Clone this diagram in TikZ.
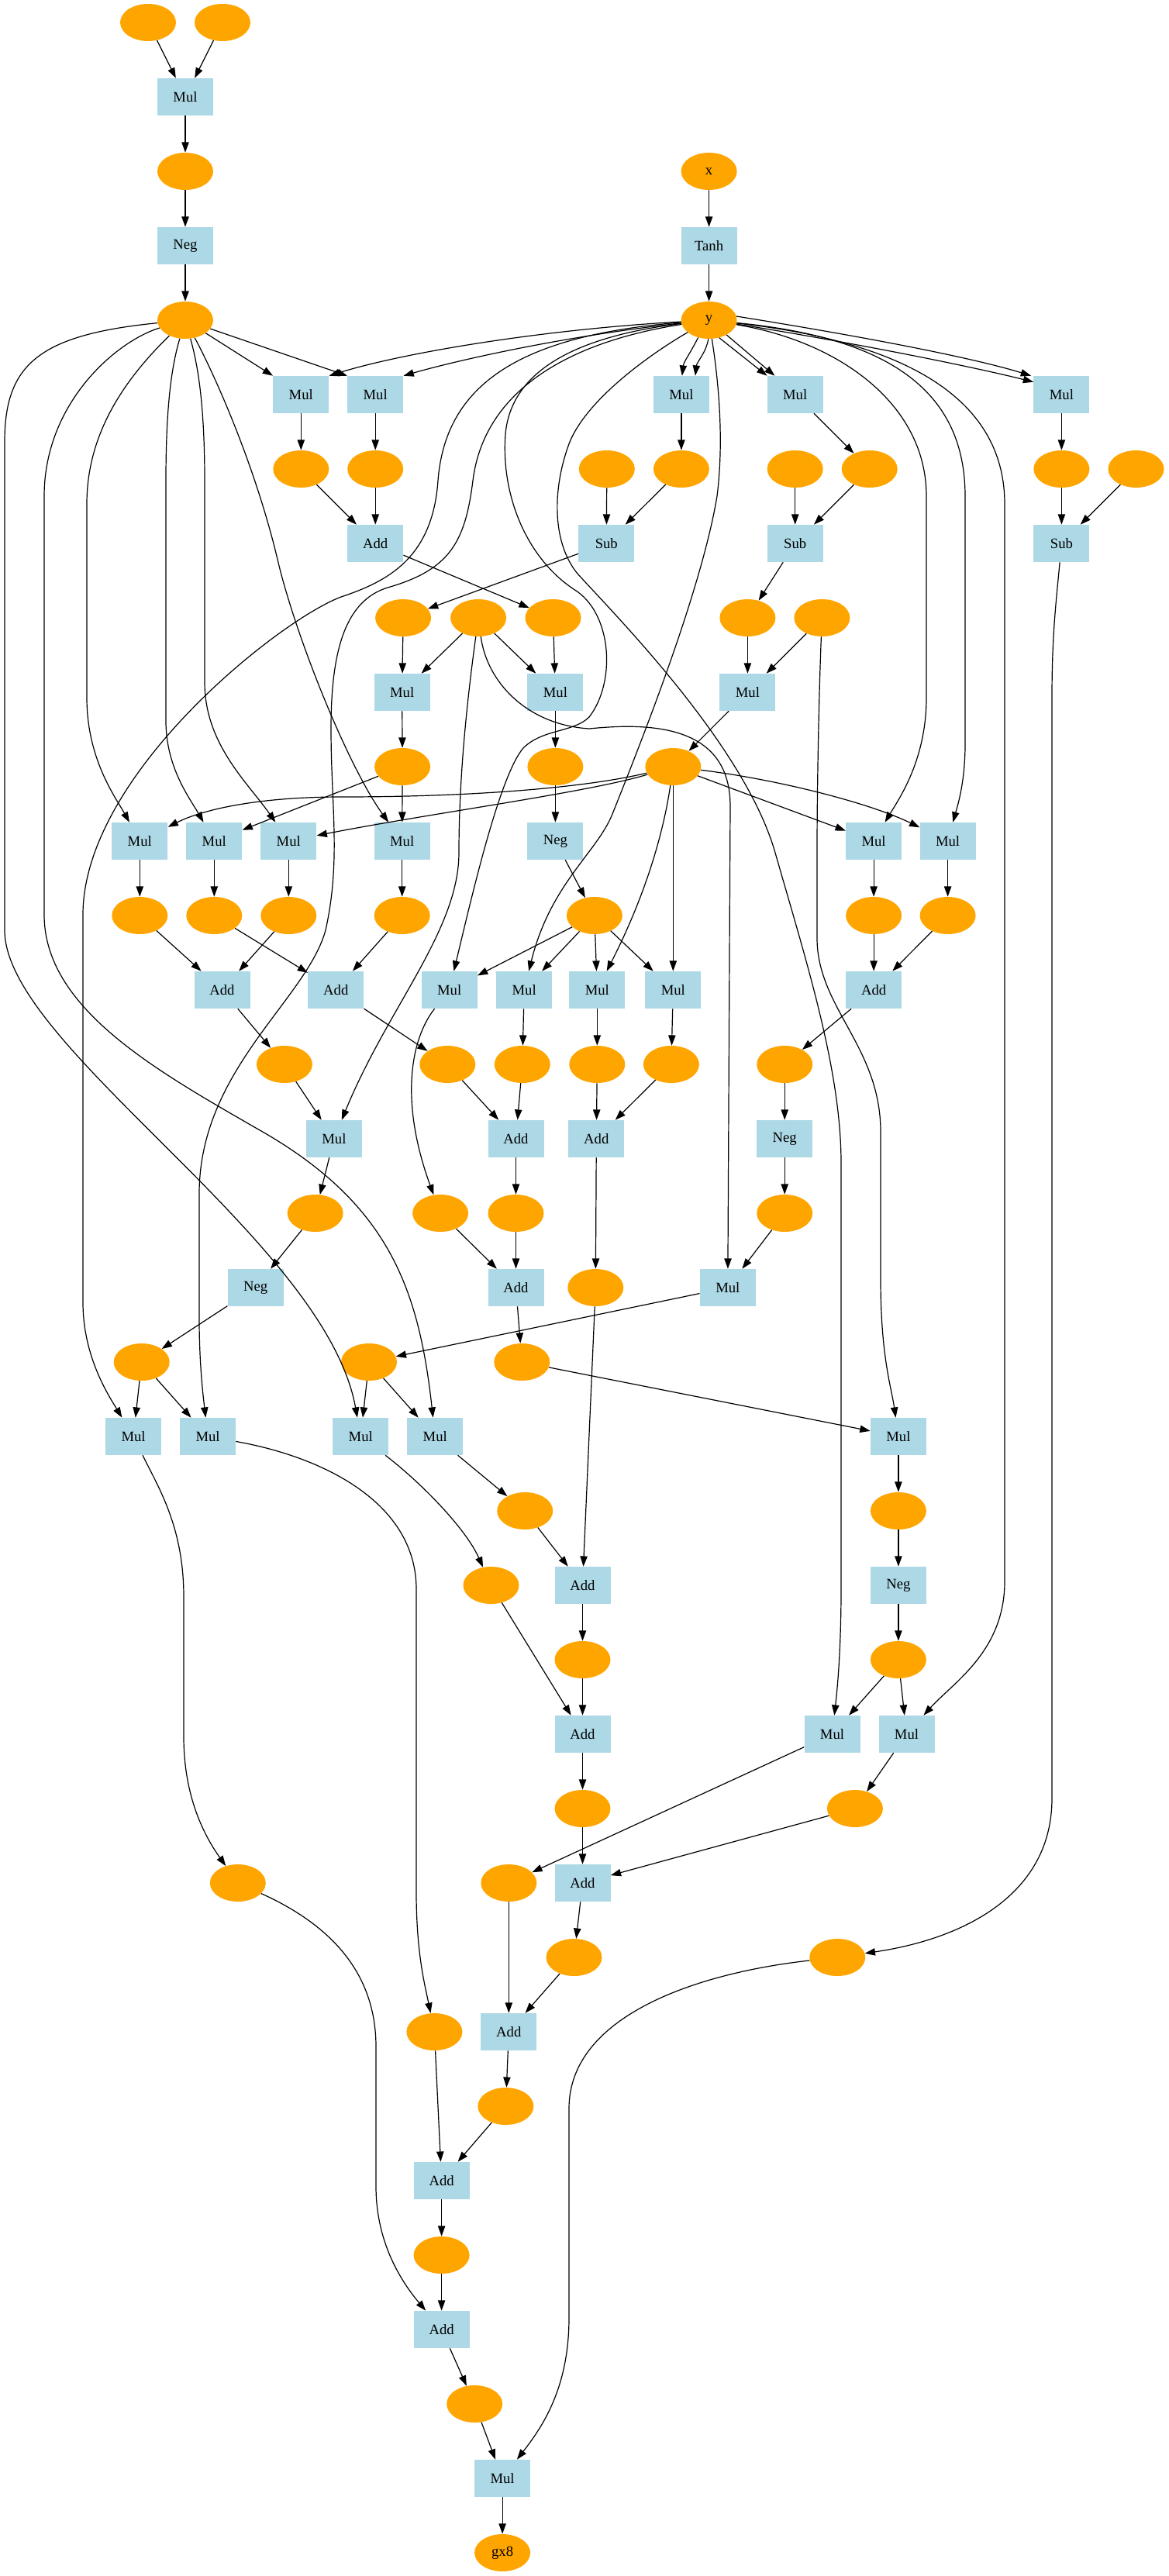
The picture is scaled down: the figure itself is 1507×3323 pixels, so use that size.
\documentclass[tikz,border=0pt]{standalone}
\usepackage{fontspec}
\setmainfont{Liberation Serif}
\usetikzlibrary{shapes.geometric,arrows.meta,calc}
\definecolor{vblue}{RGB}{173,216,230}
\definecolor{vorange}{RGB}{255,165,0}
\begin{document}
\begin{tikzpicture}[x=0.75pt,y=-0.75pt,
  val/.style={ellipse, fill=vorange, minimum width=54pt, minimum height=36pt, inner sep=0pt, font=\fontsize{14}{16}\selectfont},
  op/.style={rectangle, fill=vblue, minimum width=54pt, minimum height=36pt, inner sep=0pt, font=\fontsize{14}{16}\selectfont},
  link/.style={line width=0.9pt, -{Triangle[length=10pt,width=7pt]}}]
\useasboundingbox (0,0) rectangle (1507,3323);

% ---------- nodes, rank by rank ----------
\node[val] (e01) at (191,29) {};
\node[val] (e02) at (287,29) {};
\node[op]  (m1) at (239,125) {Mul};
\node[val] (e1) at (239,221) {};
\node[val] (ex) at (914.6,221) {x};
\node[op]  (neg1) at (239,317) {Neg};
\node[op]  (tanh) at (914.6,317) {Tanh};
\node[val] (A) at (239,413) {};
\node[val] (Y) at (914.6,413) {y};

\node[op] (m5a) at (388.3,509) {Mul};
\node[op] (m5b) at (484.2,509) {Mul};
\node[op] (m5c) at (878.9,509) {Mul};
\node[op] (m5d) at (1025.7,509) {Mul};
\node[op] (m5e) at (1369.4,509) {Mul};

\node[val] (e6a) at (388.3,605) {};
\node[val] (e6b) at (484.2,605) {};
\node[val] (e6c) at (782.8,605) {};
\node[val] (e6d) at (878.9,605) {};
\node[val] (e6e) at (1025.7,605) {};
\node[val] (e6f) at (1121.7,605) {};
\node[val] (e6g) at (1369.4,605) {};
\node[val] (e6h) at (1465.5,605) {};

\node[op] (add7) at (484.2,701) {Add};
\node[op] (sub1) at (782.3,701) {Sub};
\node[op] (sub2) at (1025.7,701) {Sub};
\node[op] (sub3) at (1369.4,701) {Sub};

\node[val] (e8a) at (520.1,797) {};
\node[val] (e8b) at (617.1,797) {};
\node[val] (e8c) at (713.5,797) {};
\node[val] (e8d) at (964.4,797) {};
\node[val] (e8e) at (1060.4,797) {};

\node[op] (m9a) at (518.7,893) {Mul};
\node[op] (m9b) at (716.4,893) {Mul};
\node[op] (m9c) at (964.4,893) {Mul};

\node[val] (e10a) at (519.1,989) {};
\node[val] (e10b) at (716.4,989) {};
\node[val] (B) at (868.3,989) {};

\node[op] (m11a) at (180.3,1085) {Mul};
\node[op] (m11b) at (276.3,1085) {Mul};
\node[op] (m11c) at (372.3,1085) {Mul};
\node[op] (m11d) at (518.7,1085) {Mul};
\node[op] (neg11) at (716.4,1085) {Neg};
\node[op] (m11e) at (1127.1,1085) {Mul};
\node[op] (m11f) at (1222.6,1085) {Mul};

\node[val] (e12a) at (180.3,1181) {};
\node[val] (e12b) at (276.3,1181) {};
\node[val] (e12c) at (372.3,1181) {};
\node[val] (e12d) at (518.7,1181) {};
\node[val] (C) at (766.9,1181) {};
\node[val] (e12e) at (1127.1,1181) {};
\node[val] (e12f) at (1222.6,1181) {};

\node[op] (add13a) at (286.5,1277) {Add};
\node[op] (add13b) at (433.3,1277) {Add};
\node[op] (m13a) at (579.7,1277) {Mul};
\node[op] (m13b) at (676.2,1277) {Mul};
\node[op] (m13c) at (770.3,1277) {Mul};
\node[op] (m13d) at (868.3,1277) {Mul};
\node[op] (add13c) at (1127.1,1277) {Add};

\node[val] (e14a) at (366.9,1373) {};
\node[val] (e14b) at (577.3,1373) {};
\node[val] (e14c) at (673.8,1373) {};
\node[val] (e14d) at (770.3,1373) {};
\node[val] (e14e) at (865.9,1373) {};
\node[val] (e14f) at (1012.2,1373) {};

\node[op] (m15) at (430.9,1469) {Mul};
\node[op] (add15a) at (665.5,1469) {Add};
\node[op] (add15b) at (769.3,1469) {Add};
\node[op] (neg15) at (1012.2,1469) {Neg};

\node[val] (e16a) at (406.7,1565) {};
\node[val] (e16b) at (568.1,1565) {};
\node[val] (e16c) at (665.5,1565) {};
\node[val] (e16d) at (1012.2,1565) {};

\node[op] (neg17) at (329.6,1661) {Neg};
\node[op] (add17) at (665.5,1661) {Add};
\node[val] (e17) at (768.3,1661) {};
\node[op] (m17) at (938.8,1661) {Mul};

\node[val] (e18a) at (182.7,1757) {};
\node[val] (D) at (476,1757) {};
\node[val] (e18c) at (673.3,1757) {};

\node[op] (m19a) at (172.1,1853) {Mul};
\node[op] (m19b) at (268.1,1853) {Mul};
\node[op] (m19c) at (465.3,1853) {Mul};
\node[op] (m19d) at (561.3,1853) {Mul};
\node[op] (m19e) at (1158.9,1853) {Mul};

\node[val] (e20a) at (677.2,1949) {};
\node[val] (e20b) at (1158.9,1949) {};

\node[val] (e21a) at (633.5,2045) {};
\node[op] (add21) at (751.5,2045) {Add};
\node[op] (neg21) at (1158.9,2045) {Neg};

\node[val] (e22a) at (751.5,2141) {};
\node[val] (e22b) at (1158.9,2141) {};

\node[op] (add23) at (751.5,2237) {Add};
\node[op] (m23a) at (1073.5,2237) {Mul};
\node[op] (m23b) at (1169.5,2237) {Mul};

\node[val] (e24a) at (751.5,2333) {};
\node[val] (e24b) at (1102.9,2333) {};

\node[val] (e25a) at (306.8,2429) {};
\node[val] (e25b) at (656.3,2429) {};
\node[op] (add25) at (751.5,2429) {Add};

\node[val] (e26a) at (740.5,2525) {};
\node[val] (e26b) at (1080.2,2525) {};

\node[val] (e27a) at (560.4,2621) {};
\node[op] (add27) at (656.3,2621) {Add};

\node[val] (e28) at (652.4,2717) {};
\node[op] (add29) at (569.6,2813) {Add};
\node[val] (e30) at (569.6,2909) {};
\node[op] (add31) at (569.6,3005) {Add};
\node[val] (e32) at (612.2,3101) {};
\node[op] (m33) at (648.1,3197) {Mul};
\node[val] (gx8) at (648.1,3293) {gx8};

% ---------- top chains ----------
\draw[link] (e01) -- (m1);
\draw[link] (e02) -- (m1);
\draw[link] (m1) -- (e1);
\draw[link] (e1) -- (neg1);
\draw[link] (neg1) -- (A);
\draw[link] (ex) -- (tanh);
\draw[link] (tanh) -- (Y);

% ---------- fan-out of A ----------
\draw[link] (A) .. controls (50,432) and (6,470) .. (6,570) -- (6,1200) .. controls (6,1350) and (420,1600) .. (m19c);
\draw[link] (A) .. controls (150,440) and (57,520) .. (57,640) -- (57,1180) .. controls (57,1300) and (200,1380) .. (330,1455) .. controls (500,1550) and (540,1660) .. (m19d);
\draw[link] (A) .. controls (160,490) and (112,560) .. (112,650) -- (112,900) .. controls (112,980) and (150,1030) .. (m11a);
\draw[link] (A) .. controls (222,470) and (214,520) .. (214,620) -- (214,930) .. controls (214,990) and (245,1030) .. (m11b);
\draw[link] (A) .. controls (255,470) and (264,520) .. (264,620) -- (264,880) .. controls (264,960) and (320,1010) .. (m11c);
\draw[link] (A) .. controls (275,480) and (330,600) .. (360,730) .. controls (385,830) and (450,990) .. (m11d);
\draw[link] (A) -- (m5a.north west);
\draw[link] (A) -- (m5b.north west);

% ---------- fan-out of y ----------
\draw[link] (Y) .. controls (700,425) and (520,455) .. (m5a.north east);
\draw[link] (Y) .. controls (740,432) and (600,462) .. (m5b.north east);
\draw[link] (Y) .. controls (680,432) and (575,490) .. (565,620) .. controls (558,720) and (500,750) .. (440,770) .. controls (360,800) and (107,1000) .. (107,1180) -- (107,1680) .. controls (107,1750) and (140,1800) .. (m19a);
\draw[link] (Y) .. controls (740,440) and (625,500) .. (610,620) .. controls (600,700) and (580,735) .. (500,758) .. controls (445,775) and (427,840) .. (427,940) .. controls (427,1040) and (440,1110) .. (420,1200) .. controls (395,1290) and (257,1380) .. (257,1540) -- (257,1700) .. controls (257,1760) and (262,1800) .. (m19b);
\draw[link] (Y) .. controls (850,450) and (760,510) .. (735,570) .. controls (712,630) and (712,700) .. (745,740) .. controls (790,790) and (960,960) .. (1000,1100) .. controls (1040,1240) and (1085,1380) .. (1085,1500) -- (1085,2050) .. controls (1085,2130) and (1080,2180) .. (m23a);
\draw[link] (Y) .. controls (760,432) and (660,470) .. (652,560) .. controls (646,640) and (680,720) .. (740,760) .. controls (790,790) and (795,880) .. (760,925) .. controls (740,945) and (700,940) .. (675,965) .. controls (645,1000) and (610,1150) .. (m13a);
\draw[link] (Y) .. controls (925,480) and (935,560) .. (925,640) .. controls (905,760) and (830,950) .. (790,1050) .. controls (770,1100) and (710,1140) .. (m13b);
\draw[link] (Y.238) .. controls +(-10,20) and +(2,-18) .. ($(m5c.north)+(1,0)$);
\draw[link] (Y.268) .. controls +(-3,18) and +(2,-18) .. ($(m5c.north)+(18,0)$);
\draw[link] (Y.300) -- (m5d.north west);
\draw[link] (Y.320) -- ($(m5d.north west)+(10,0)$);
\draw[link] (Y.8) .. controls (1100,432) and (1250,460) .. ($(m5e.north west)+(-3,0)$);
\draw[link] (Y.352) .. controls (1100,442) and (1250,472) .. ($(m5e.north west)+(0,8)$);
\draw[link] (Y) .. controls (1080,440) and (1195,520) .. (1195,640) -- (1195,900) .. controls (1195,980) and (1160,1030) .. (m11e);
\draw[link] (Y) .. controls (1140,435) and (1245,500) .. (1245,640) -- (1245,960) .. controls (1245,1010) and (1235,1040) .. (m11f);
\draw[link] (Y) .. controls (1160,440) and (1296,510) .. (1296,650) -- (1296,2040) .. controls (1296,2130) and (1230,2170) .. (m23b);

% ---------- ranks 5 to 10 ----------
\draw[link] (m5a) -- (e6a);
\draw[link] (m5b) -- (e6b);
\draw[link] (m5c) -- (e6d);
\draw[link] (m5d) -- (e6f);
\draw[link] (m5e) -- (e6g);
\draw[link] (e6a) -- (add7);
\draw[link] (e6b) -- (add7);
\draw[link] (e6c) -- (sub1);
\draw[link] (e6d) -- (sub1);
\draw[link] (e6e) -- (sub2);
\draw[link] (e6f) -- (sub2);
\draw[link] (e6g) -- (sub3);
\draw[link] (e6h) -- (sub3);
\draw[link] (add7) -- (e8c);
\draw[link] (sub1) -- (e8a);
\draw[link] (sub2) -- (e8d);
\draw[link] (e8a) -- (m9a);
\draw[link] (e8b) -- (m9a);
\draw[link] (e8b) -- (m9b);
\draw[link] (e8c) -- (m9b);
\draw[link] (e8d) -- (m9c);
\draw[link] (e8e) -- (m9c);
\draw[link] (m9a) -- (e10a);
\draw[link] (m9b) -- (e10b);
\draw[link] (m9c) -- (B);
\draw[link] (e10b) -- (neg11);
\draw[link] (neg11) -- (C);
\draw[link] (e10a) -- (m11b);
\draw[link] (e10a) -- (m11d);

% ---------- fan-out of B and C ----------
\draw[link] (B) .. controls (760,1015) and (620,1028) .. (440,1028) .. controls (330,1028) and (260,1045) .. (m11a);
\draw[link] (B) .. controls (760,1022) and (550,1050) .. (m11c);
\draw[link] (B) -- (m11e);
\draw[link] (B) .. controls (1000,1005) and (1120,1035) .. (m11f);
\draw[link] (B) .. controls (855,1080) and (830,1160) .. (m13c);
\draw[link] (B) -- (m13d);
\draw[link] (C) -- (m13a);
\draw[link] (C) -- (m13b);
\draw[link] (C) -- (m13c);
\draw[link] (C) -- (m13d);

% ---------- ranks 11 to 18 ----------
\draw[link] (m11a) -- (e12a);
\draw[link] (m11b) -- (e12b);
\draw[link] (m11c) -- (e12c);
\draw[link] (m11d) -- (e12d);
\draw[link] (m11e) -- (e12e);
\draw[link] (m11f) -- (e12f);
\draw[link] (e12a) -- (add13a);
\draw[link] (e12c) -- (add13a);
\draw[link] (e12b) -- (add13b);
\draw[link] (e12d) -- (add13b);
\draw[link] (e12e) -- (add13c);
\draw[link] (e12f) -- (add13c);
\draw[link] (add13a) -- (e14a);
\draw[link] (add13b) -- (e14b);
\draw[link] (m13a) .. controls (530,1340) and (515,1420) .. (e16b);
\draw[link] (m13b) -- (e14c);
\draw[link] (m13c) -- (e14d);
\draw[link] (m13d) -- (e14e);
\draw[link] (add13c) -- (e14f);
\draw[link] (e14a) -- (m15);
\draw[link] (e8b) .. controls (603,900) and (592,1000) .. (592,1100) .. controls (592,1200) and (500,1300) .. (m15);
\draw[link] (e14b) -- (add15a);
\draw[link] (e14c) -- (add15a);
\draw[link] (e14d) -- (add15b);
\draw[link] (e14e) -- (add15b);
\draw[link] (e14f) -- (neg15);
\draw[link] (m15) -- (e16a);
\draw[link] (add15a) -- (e16c);
\draw[link] (neg15) -- (e16d);
\draw[link] (add15b) -- (e17);
\draw[link] (e16a) -- (neg17);
\draw[link] (e16b) -- (add17);
\draw[link] (e16c) -- (add17);
\draw[link] (e16d) -- (m17);
\draw[link] (e8b) .. controls (628,880) and (680,935) .. (760,940) .. controls (840,932) and (942,935) .. (942,1040) -- (m17);
\draw[link] (neg17) -- (e18a);
\draw[link] (m17) -- (D);
\draw[link] (add17) -- (e18c);

% ---------- ranks 19 to the output ----------
\draw[link] (e18a) -- (m19a);
\draw[link] (e18a) -- (m19b);
\draw[link] (D) -- (m19c);
\draw[link] (D) -- (m19d);
\draw[link] (e18c) -- (m19e);
\draw[link] (e8e) .. controls (1057,880) and (1054,1000) .. (1054,1100) -- (1054,1210) .. controls (1054,1300) and (1136,1350) .. (1136,1460) -- (1136,1650) .. controls (1136,1750) and (1150,1790) .. (m19e);
\draw[link] (m19d) -- (e20a);
\draw[link] (m19e) -- (e20b);
\draw[link] (m19c) .. controls (540,1910) and (600,1970) .. (e21a);
\draw[link] (e20a) -- (add21);
\draw[link] (e17) -- (add21);
\draw[link] (e20b) -- (neg21);
\draw[link] (add21) -- (e22a);
\draw[link] (neg21) -- (e22b);
\draw[link] (e21a) -- (add23);
\draw[link] (e22a) -- (add23);
\draw[link] (e22b) -- (m23a);
\draw[link] (e22b) -- (m23b);
\draw[link] (add23) -- (e24a);
\draw[link] (m23b) -- (e24b);
\draw[link] (m23a) -- (e25b);
\draw[link] (e24a) -- (add25);
\draw[link] (e24b) -- (add25);
\draw[link] (m19a) .. controls (205,1920) and (237,1970) .. (237,2060) -- (237,2240) .. controls (237,2320) and (265,2370) .. (e25a);
\draw[link] (add25) -- (e26a);
\draw[link] (sub3) .. controls (1362,780) and (1357,820) .. (1357,900) -- (1357,2320) .. controls (1357,2440) and (1250,2500) .. (e26b);
\draw[link] (m19b) .. controls (420,1880) and (537,1940) .. (537,2050) -- (537,2440) .. controls (537,2520) and (548,2560) .. (e27a);
\draw[link] (e25b) -- (add27);
\draw[link] (e26a) -- (add27);
\draw[link] (add27) -- (e28);
\draw[link] (e28) -- (add29);
\draw[link] (e27a) -- (add29);
\draw[link] (add29) -- (e30);
\draw[link] (e30) -- (add31);
\draw[link] (e25a) .. controls (420,2480) and (485,2540) .. (485,2640) -- (485,2820) .. controls (485,2890) and (515,2940) .. (add31);
\draw[link] (add31) -- (e32);
\draw[link] (e32) -- (m33);
\draw[link] (e26b) .. controls (900,2545) and (734,2600) .. (734,2720) -- (734,2990) .. controls (734,3080) and (700,3130) .. (m33);
\draw[link] (m33) -- (gx8);
\end{tikzpicture}
\end{document}
